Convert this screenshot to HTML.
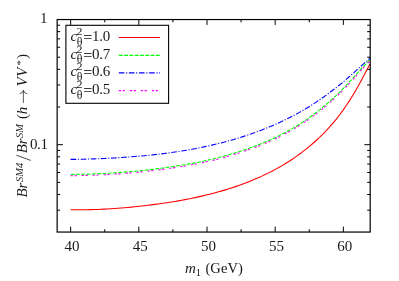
<!DOCTYPE html>
<html><head><meta charset="utf-8"><title>chart</title>
<style>html,body{margin:0;padding:0;background:#fff}svg{display:block;will-change:transform;opacity:0.9999}</style></head>
<body>
<svg width="399" height="281" viewBox="0 0 399 281">
<rect x="0" y="0" width="399" height="281" fill="#fff"/>
<g fill="none" stroke-width="1.08" stroke-linejoin="round">
<path d="M70.61,209.75 L73.97,209.78 L77.34,209.79 L80.70,209.78 L84.06,209.75 L87.43,209.71 L90.79,209.65 L94.16,209.56 L97.52,209.44 L100.88,209.30 L104.25,209.14 L107.61,208.94 L110.98,208.73 L114.34,208.50 L117.70,208.26 L121.07,208.00 L124.43,207.72 L127.80,207.43 L131.16,207.11 L134.52,206.78 L137.89,206.43 L141.25,206.07 L144.62,205.68 L147.98,205.27 L151.34,204.85 L154.71,204.41 L158.07,203.96 L161.44,203.49 L164.80,203.01 L168.16,202.50 L171.53,201.98 L174.89,201.44 L178.26,200.87 L181.62,200.27 L184.98,199.65 L188.35,199.00 L191.71,198.32 L195.07,197.61 L198.44,196.88 L201.80,196.12 L205.17,195.33 L208.53,194.50 L211.89,193.65 L215.26,192.76 L218.62,191.84 L221.99,190.87 L225.35,189.87 L228.71,188.83 L232.08,187.75 L235.44,186.62 L238.81,185.45 L242.17,184.23 L245.53,182.96 L248.90,181.64 L252.26,180.28 L255.63,178.86 L258.99,177.39 L262.35,175.87 L265.72,174.28 L269.08,172.63 L272.45,170.92 L275.81,169.14 L279.17,167.29 L282.54,165.35 L285.90,163.32 L289.27,161.19 L292.63,158.97 L295.99,156.64 L299.36,154.22 L302.72,151.69 L306.09,149.07 L309.45,146.34 L312.81,143.49 L316.18,140.51 L319.54,137.37 L322.90,134.08 L326.27,130.62 L329.63,126.98 L333.00,123.14 L336.36,119.09 L339.72,114.78 L343.09,110.18 L346.45,105.31 L349.82,100.14 L353.18,94.69 L356.54,88.95 L359.91,82.96 L363.27,76.74 L366.64,70.37 L370.00,64.01" stroke="#ff0000"/>
<path d="M70.61,174.42 L73.97,174.38 L77.34,174.33 L80.70,174.26 L84.06,174.19 L87.43,174.09 L90.79,173.99 L94.16,173.87 L97.52,173.74 L100.88,173.59 L104.25,173.42 L107.61,173.25 L110.98,173.06 L114.34,172.85 L117.70,172.63 L121.07,172.39 L124.43,172.13 L127.80,171.86 L131.16,171.57 L134.52,171.27 L137.89,170.95 L141.25,170.61 L144.62,170.25 L147.98,169.88 L151.34,169.48 L154.71,169.08 L158.07,168.65 L161.44,168.20 L164.80,167.75 L168.16,167.28 L171.53,166.79 L174.89,166.30 L178.26,165.78 L181.62,165.24 L184.98,164.69 L188.35,164.11 L191.71,163.51 L195.07,162.88 L198.44,162.22 L201.80,161.53 L205.17,160.81 L208.53,160.06 L211.89,159.27 L215.26,158.44 L218.62,157.58 L221.99,156.68 L225.35,155.75 L228.71,154.78 L232.08,153.78 L235.44,152.75 L238.81,151.68 L242.17,150.58 L245.53,149.45 L248.90,148.29 L252.26,147.10 L255.63,145.86 L258.99,144.58 L262.35,143.25 L265.72,141.85 L269.08,140.39 L272.45,138.87 L275.81,137.27 L279.17,135.61 L282.54,133.90 L285.90,132.12 L289.27,130.27 L292.63,128.35 L295.99,126.35 L299.36,124.26 L302.72,122.10 L306.09,119.84 L309.45,117.50 L312.81,115.07 L316.18,112.54 L319.54,109.92 L322.90,107.20 L326.27,104.39 L329.63,101.47 L333.00,98.44 L336.36,95.29 L339.72,92.04 L343.09,88.67 L346.45,85.20 L349.82,81.63 L353.18,77.98 L356.54,74.21 L359.91,70.39 L363.27,66.58 L366.64,62.89 L370.00,59.44" stroke="#00ff00" stroke-dasharray="3.9 1.4"/>
<path d="M70.61,159.41 L73.97,159.37 L77.34,159.32 L80.70,159.26 L84.06,159.19 L87.43,159.10 L90.79,159.00 L94.16,158.90 L97.52,158.77 L100.88,158.64 L104.25,158.49 L107.61,158.33 L110.98,158.16 L114.34,157.97 L117.70,157.77 L121.07,157.55 L124.43,157.32 L127.80,157.08 L131.16,156.83 L134.52,156.56 L137.89,156.28 L141.25,155.98 L144.62,155.67 L147.98,155.35 L151.34,155.00 L154.71,154.63 L158.07,154.25 L161.44,153.84 L164.80,153.42 L168.16,152.98 L171.53,152.53 L174.89,152.05 L178.26,151.55 L181.62,151.03 L184.98,150.48 L188.35,149.91 L191.71,149.31 L195.07,148.68 L198.44,148.03 L201.80,147.34 L205.17,146.63 L208.53,145.89 L211.89,145.12 L215.26,144.33 L218.62,143.50 L221.99,142.65 L225.35,141.77 L228.71,140.85 L232.08,139.90 L235.44,138.92 L238.81,137.91 L242.17,136.86 L245.53,135.77 L248.90,134.65 L252.26,133.48 L255.63,132.28 L258.99,131.04 L262.35,129.75 L265.72,128.42 L269.08,127.05 L272.45,125.63 L275.81,124.16 L279.17,122.64 L282.54,121.07 L285.90,119.45 L289.27,117.77 L292.63,116.03 L295.99,114.25 L299.36,112.40 L302.72,110.50 L306.09,108.53 L309.45,106.49 L312.81,104.37 L316.18,102.17 L319.54,99.89 L322.90,97.54 L326.27,95.10 L329.63,92.59 L333.00,90.00 L336.36,87.35 L339.72,84.73 L343.09,82.05 L346.45,79.20 L349.82,76.26 L353.18,73.26 L356.54,70.22 L359.91,67.15 L363.27,64.09 L366.64,61.09 L370.00,58.20" stroke="#0000ff" stroke-dasharray="5.6 1.7 1.1 1.7"/>
<path d="M70.61,175.72 L73.97,175.68 L77.34,175.63 L80.70,175.56 L84.06,175.49 L87.43,175.39 L90.79,175.29 L94.16,175.17 L97.52,175.04 L100.88,174.89 L104.25,174.72 L107.61,174.55 L110.98,174.36 L114.34,174.15 L117.70,173.93 L121.07,173.69 L124.43,173.43 L127.80,173.16 L131.16,172.87 L134.52,172.57 L137.89,172.25 L141.25,171.91 L144.62,171.55 L147.98,171.18 L151.34,170.78 L154.71,170.38 L158.07,169.95 L161.44,169.50 L164.80,169.05 L168.16,168.58 L171.53,168.09 L174.89,167.60 L178.26,167.08 L181.62,166.54 L184.98,165.99 L188.35,165.41 L191.71,164.81 L195.07,164.18 L198.44,163.52 L201.80,162.83 L205.17,162.11 L208.53,161.36 L211.89,160.57 L215.26,159.74 L218.62,158.88 L221.99,157.98 L225.35,157.05 L228.71,156.08 L232.08,155.08 L235.44,154.05 L238.81,152.98 L242.17,151.88 L245.53,150.75 L248.90,149.59 L252.26,148.40 L255.63,147.16 L258.99,145.88 L262.35,144.55 L265.72,143.15 L269.08,141.69 L272.45,140.17 L275.81,138.57 L279.17,136.91 L282.54,135.20 L285.90,133.42 L289.27,131.57 L292.63,129.65 L295.99,127.65 L299.36,125.56 L302.72,123.40 L306.09,121.14 L309.45,118.80 L312.81,116.37 L316.18,113.84 L319.54,111.22 L322.90,108.50 L326.27,105.69 L329.63,102.77 L333.00,99.74 L336.36,96.59 L339.72,93.34 L343.09,89.97 L346.45,86.50 L349.82,82.93 L353.18,79.28 L356.54,75.51 L359.91,71.69 L363.27,67.88 L366.64,64.19 L370.00,60.74" stroke="#ff00ff" stroke-dasharray="2.3 1.5 2.3 4.9"/>
</g>
<path d="M70.66 232.05v-5.4M70.66 19.55v5.4M138.83 232.05v-5.4M138.83 19.55v5.4M207.00 232.05v-5.4M207.00 19.55v5.4M275.18 232.05v-5.4M275.18 19.55v5.4M343.35 232.05v-5.4M343.35 19.55v5.4M104.75 232.05v-2.8M104.75 19.55v2.8M172.92 232.05v-2.8M172.92 19.55v2.8M241.09 232.05v-2.8M241.09 19.55v2.8M309.26 232.05v-2.8M309.26 19.55v2.8M57.15 144.70h5.8M370.20 144.70h-5.8M57.15 25.23h3M370.20 25.23h-3M57.15 31.63h3M370.20 31.63h-3M57.15 38.89h3M370.20 38.89h-3M57.15 47.28h3M370.20 47.28h-3M57.15 57.19h3M370.20 57.19h-3M57.15 69.32h3M370.20 69.32h-3M57.15 84.96h3M370.20 84.96h-3M57.15 107.01h3M370.20 107.01h-3M57.15 150.43h3M370.20 150.43h-3M57.15 156.83h3M370.20 156.83h-3M57.15 164.09h3M370.20 164.09h-3M57.15 172.48h3M370.20 172.48h-3M57.15 182.39h3M370.20 182.39h-3M57.15 194.52h3M370.20 194.52h-3M57.15 210.16h3M370.20 210.16h-3" stroke="#000" stroke-width="1.0" fill="none"/>
<rect x="57.15" y="19.55" width="313.05" height="212.50" fill="none" stroke="#000" stroke-width="1.2"/>
<rect x="65.90" y="25.30" width="102.70" height="78.00" fill="#fff" stroke="#000" stroke-width="1.1"/>
<g font-family="'Liberation Serif', serif" font-size="15" fill="#1a1a1a">
<path d="M118.8 37.50H160" stroke="#ff0000" stroke-width="1.18" fill="none"/>
<text x="70.6" y="41.00" font-style="italic">c</text>
<text transform="translate(76.3 35.10) scale(1.2 1)" font-size="10.5">2</text>
<text x="76.7" y="45.70" font-size="11.9">θ</text>
<text x="83.4" y="42.00" stroke="#1a1a1a" stroke-width="0.25">=</text>
<text x="91.9" y="41.00" letter-spacing="-0.25">1.0</text>
<path d="M118.8 55.40H160" stroke="#00ff00" stroke-width="1.18" fill="none" stroke-dasharray="3.9 1.4"/>
<text x="70.6" y="58.50" font-style="italic">c</text>
<text transform="translate(76.3 52.60) scale(1.2 1)" font-size="10.5">2</text>
<text x="76.7" y="63.20" font-size="11.9">θ</text>
<text x="83.4" y="59.50" stroke="#1a1a1a" stroke-width="0.25">=</text>
<text x="91.9" y="58.50" letter-spacing="-0.25">0.7</text>
<path d="M118.8 72.90H160" stroke="#0000ff" stroke-width="1.18" fill="none" stroke-dasharray="5.6 1.7 1.1 1.7"/>
<text x="70.6" y="76.10" font-style="italic">c</text>
<text transform="translate(76.3 70.20) scale(1.2 1)" font-size="10.5">2</text>
<text x="76.7" y="80.80" font-size="11.9">θ</text>
<text x="83.4" y="77.10" stroke="#1a1a1a" stroke-width="0.25">=</text>
<text x="91.9" y="76.10" letter-spacing="-0.25">0.6</text>
<path d="M118.8 90.60H160" stroke="#ff00ff" stroke-width="1.18" fill="none" stroke-dasharray="2.3 1.5 2.3 4.9"/>
<text x="70.6" y="94.20" font-style="italic">c</text>
<text transform="translate(76.3 88.30) scale(1.2 1)" font-size="10.5">2</text>
<text x="76.7" y="98.90" font-size="11.9">θ</text>
<text x="83.4" y="95.20" stroke="#1a1a1a" stroke-width="0.25">=</text>
<text x="91.9" y="94.20" letter-spacing="-0.25">0.5</text>
<text x="72.06" y="250.8" text-anchor="middle">40</text>
<text x="140.23" y="250.8" text-anchor="middle">45</text>
<text x="208.41" y="250.8" text-anchor="middle">50</text>
<text x="276.58" y="250.8" text-anchor="middle">55</text>
<text x="344.75" y="250.8" text-anchor="middle">60</text>
<text x="47.6" y="23.1" text-anchor="end">1</text>
<text x="47.5" y="148.7" text-anchor="end" letter-spacing="-0.4">0.1</text>
<text x="184.9" y="272.5"><tspan font-style="italic">m</tspan><tspan font-size="10.5" dy="3.5">1</tspan></text><text x="205.5" y="272.5" font-size="14.6">(GeV)</text>
<g transform="translate(27.1 197.6) rotate(-90)" font-style="italic">
<text x="0" y="0">Br</text>
<text x="15.6" y="-4.6" font-size="10.5">SM4</text>
<text x="44.3" y="0">Br</text>
<text x="59.7" y="-4.6" font-size="10.5">SM</text>
<text x="78.7" y="0" font-style="normal">(</text>
<text x="83.3" y="0">h</text>
<text x="111.0" y="0" letter-spacing="0.6">VV</text>
<text x="131.6" y="-3.6" font-size="10.5">*</text>
<text x="138.5" y="0" font-style="normal">)</text>
</g>
<path d="M16.4 155.2L30.7 160.4" stroke="#1a1a1a" stroke-width="0.8" fill="none"/>
<path d="M23.4 102.9V90.8M19.6 93.7Q22.9 93.5 23.4 90.2Q23.9 93.5 27.2 93.7" stroke="#1a1a1a" stroke-width="0.7" fill="none"/>
</g>
</svg>
</body></html>
